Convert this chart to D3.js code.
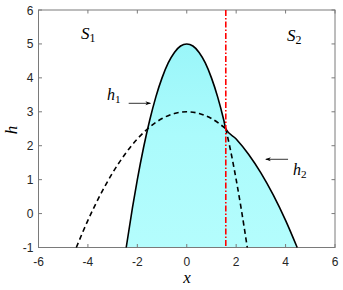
<!DOCTYPE html>
<html><head><meta charset="utf-8">
<script src="https://cdn.jsdelivr.net/npm/d3@7"></script>
<style>body{margin:0;background:#fff}svg{display:block}</style>
</head><body>
<svg id="c" width="343" height="290"></svg>
<script>
// ---- data ----
const xTicks = [-6,-4,-2,0,2,4,6];
const yTicks = [-1,0,1,2,3,4,5,6];
const crossX = 1.58;            // red dash-dot line / intersection
const h1X = [-2.45,-2.2,-2,-1.75,-1.5,-1.25,-1,-0.75,-0.5,-0.25,0,0.25,0.5,0.75,1,1.25,1.5,1.58,1.75,2,2.2,2.45];
const h1Y = [-1.0,0.16,1.0,1.94,2.75,3.44,4.0,4.44,4.75,4.94,5.0,4.94,4.75,4.44,4.0,3.44,2.75,2.5,1.94,1.0,0.16,-1.0];
const h2X = [-4.47,-4,-3.5,-3,-2.5,-2,-1.5,-1,-0.5,0,0.5,1,1.58,2,2.5,3,3.5,4,4.47];
const h2Y = [-1.0,-0.2,0.55,1.2,1.75,2.2,2.55,2.8,2.95,3.0,2.95,2.8,2.5,2.2,1.75,1.2,0.55,-0.2,-1.0];

const svg = d3.select('#c');
const L=38.5,R=335,T=10,B=247.5;
const x = d3.scaleLinear().domain([-6,6]).range([L,R]);
const y = d3.scaleLinear().domain([-1,6]).range([B,T]);

const h1 = h1X.map((v,i)=>[v,h1Y[i]]);
const h2 = h2X.map((v,i)=>[v,h2Y[i]]);
const solid = h1.filter(d=>d[0]<=crossX).concat(h2.filter(d=>d[0]>crossX));
const dashL = h2.filter(d=>d[0]<=crossX);
const dashR = h1.filter(d=>d[0]>=crossX);

const defs = svg.append('defs');
const g = defs.append('linearGradient').attr('id','fg').attr('x1',0).attr('y1',0).attr('x2',0).attr('y2',1);
g.append('stop').attr('offset','0').attr('stop-color','#9af6f9');
g.append('stop').attr('offset','0.45').attr('stop-color','#abfbfc');
g.append('stop').attr('offset','1').attr('stop-color','#b4fdfd');
defs.append('marker').attr('id','arr').attr('viewBox','0 0 10 10').attr('refX',9).attr('refY',5)
  .attr('markerWidth',7).attr('markerHeight',7).attr('orient','auto-start-reverse')
  .append('path').attr('d','M0,1.5 L10,5 L0,8.5 L3,5 Z').attr('fill','#000');

const line = d3.line().x(d=>x(d[0])).y(d=>y(d[1])).curve(d3.curveMonotoneX);
const area = d3.area().x(d=>x(d[0])).y0(y(-1)).y1(d=>y(d[1])).curve(d3.curveMonotoneX);

svg.append('path').attr('d',area(solid)).attr('fill','url(#fg)');

// axes box
const ax = svg.append('g');
ax.append('rect').attr('x',L).attr('y',T).attr('width',R-L).attr('height',B-T)
  .attr('fill','none').attr('stroke','#7a7a7a').attr('stroke-width',1);
xTicks.forEach(t=>{
  ax.append('line').attr('x1',x(t)).attr('x2',x(t)).attr('y1',B).attr('y2',B-3.5).attr('stroke','#7a7a7a');
  ax.append('line').attr('x1',x(t)).attr('x2',x(t)).attr('y1',T).attr('y2',T+3.5).attr('stroke','#7a7a7a');
  ax.append('text').attr('x',x(t)).attr('y',B+18).attr('text-anchor','middle')
    .attr('font-family','Liberation Sans, Arial, sans-serif').attr('font-size',12).attr('fill','#262626').text(t);
});
yTicks.forEach(t=>{
  ax.append('line').attr('x1',L).attr('x2',L+3.5).attr('y1',y(t)).attr('y2',y(t)).attr('stroke','#7a7a7a');
  ax.append('line').attr('x1',R).attr('x2',R-3.5).attr('y1',y(t)).attr('y2',y(t)).attr('stroke','#7a7a7a');
  ax.append('text').attr('x',L-5).attr('y',y(t)+4.5).attr('text-anchor','end')
    .attr('font-family','Liberation Sans, Arial, sans-serif').attr('font-size',12).attr('fill','#262626').text(t);
});

svg.append('path').attr('d',line(dashL)).attr('fill','none').attr('stroke','#000').attr('stroke-width',1.6).attr('stroke-dasharray','5,3.5');
svg.append('path').attr('d',line(dashR)).attr('fill','none').attr('stroke','#000').attr('stroke-width',1.6).attr('stroke-dasharray','5,3.5');
svg.append('path').attr('d',line(solid)).attr('fill','none').attr('stroke','#000').attr('stroke-width',1.6);
svg.append('line').attr('x1',x(crossX)).attr('x2',x(crossX)).attr('y1',T).attr('y2',B)
  .attr('stroke','#ff0000').attr('stroke-width',1.6).attr('stroke-dasharray','6,2,1.5,2');

// labels
const serif = 'Liberation Serif, DejaVu Serif, serif';
function sub(xp,yp,main,s,size){
  const t = svg.append('text').attr('x',xp).attr('y',yp).attr('font-family',serif).attr('font-size',size).attr('fill','#000');
  t.append('tspan').attr('font-style','italic').text(main);
  t.append('tspan').attr('font-size',size*0.7).attr('dy',3).text(s);
}
sub(81,39,'S','1',17);
sub(287,41,'S','2',17);
sub(107,100,'h','1',16);
sub(293,175,'h','2',16);
svg.append('line').attr('x1',x(-2.35)).attr('y1',y(3.25)).attr('x2',x(-1.47)).attr('y2',y(3.25))
  .attr('stroke','#000').attr('stroke-width',0.8).attr('marker-end','url(#arr)');
svg.append('line').attr('x1',x(4.1)).attr('y1',y(1.6)).attr('x2',x(3.2)).attr('y2',y(1.6))
  .attr('stroke','#000').attr('stroke-width',0.8).attr('marker-end','url(#arr)');
svg.append('text').attr('x',187).attr('y',283).attr('text-anchor','middle').attr('font-family',serif)
  .attr('font-style','italic').attr('font-size',17).text('x');
svg.append('text').attr('transform','translate(17,130) rotate(-90)').attr('text-anchor','middle').attr('font-family',serif)
  .attr('font-style','italic').attr('font-size',17).text('h');
</script>
</body></html>
